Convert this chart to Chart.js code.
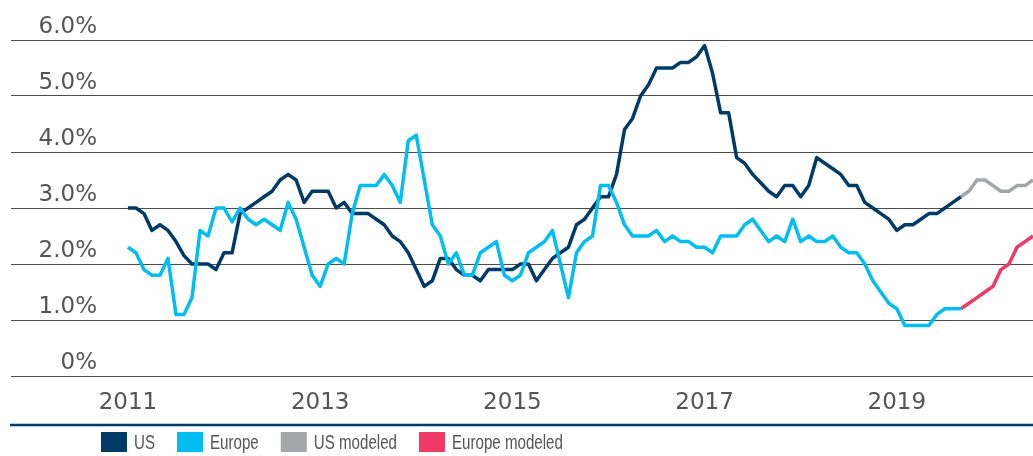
<!DOCTYPE html>
<html><head><meta charset="utf-8">
<script src="https://cdn.jsdelivr.net/npm/chart.js@4/dist/chart.umd.min.js"></script>
<style>html,body{margin:0;padding:0;background:#fff;} #wrap{width:1033px;height:456px;position:relative;}</style>
</head><body><div id="wrap"><canvas id="c"></canvas></div>
<script>
// Tick labels
const yearLabels = ['2011', '2013', '2015', '2017', '2019'];
const yearTickMonths = [0, 24, 48, 72, 96];          // month index (0 = Jan 2011)
const yTickValues = [0, 1, 2, 3, 4, 5, 6];
const yTickLabels = ['0%', '1.0%', '2.0%', '3.0%', '4.0%', '5.0%', '6.0%'];
const seriesNames = ['US', 'Europe', 'US modeled', 'Europe modeled'];

// Monthly values (%), Jan 2011 onward
const usValues = [
  3.0, 3.0, 2.9, 2.6, 2.7, 2.6, 2.4, 2.15, 2.0, 2.0,
  2.0, 1.9, 2.2, 2.2, 2.9, 3.0, 3.1, 3.2, 3.3, 3.5,
  3.6, 3.5, 3.1, 3.3, 3.3, 3.3, 3.0, 3.1, 2.9, 2.9,
  2.9, 2.8, 2.7, 2.5, 2.4, 2.2, 1.9, 1.6, 1.7, 2.1,
  2.1, 1.9, 1.8, 1.8, 1.7, 1.9, 1.9, 1.9, 1.9, 2.0,
  2.0, 1.7, 1.9, 2.1, 2.2, 2.3, 2.7, 2.8, 3.0, 3.2,
  3.2, 3.6, 4.4, 4.6, 5.0, 5.2, 5.5, 5.5, 5.5, 5.6,
  5.6, 5.7, 5.9, 5.4, 4.7, 4.7, 3.9, 3.8, 3.6, 3.45,
  3.3, 3.2, 3.4, 3.4, 3.2, 3.4, 3.9, 3.8, 3.7, 3.6,
  3.4, 3.4, 3.1, 3.0, 2.9, 2.8, 2.6, 2.7, 2.7, 2.8,
  2.9, 2.9, 3.0, 3.1, 3.2
];
const europeValues = [
  2.3, 2.2, 1.9, 1.8, 1.8, 2.1, 1.1, 1.1, 1.4, 2.6,
  2.5, 3.0, 3.0, 2.75, 3.0, 2.8, 2.7, 2.8, 2.7, 2.6,
  3.1, 2.8, 2.3, 1.8, 1.6, 2.0, 2.1, 2.0, 2.9, 3.4,
  3.4, 3.4, 3.6, 3.4, 3.1, 4.2, 4.3, 3.5, 2.7, 2.5,
  2.0, 2.2, 1.8, 1.8, 2.2, 2.3, 2.4, 1.8, 1.7, 1.8,
  2.2, 2.3, 2.4, 2.6, 2.0, 1.4, 2.2, 2.4, 2.5, 3.4,
  3.4, 3.1, 2.7, 2.5, 2.5, 2.5, 2.6, 2.4, 2.5, 2.4,
  2.4, 2.3, 2.3, 2.2, 2.5, 2.5, 2.5, 2.7, 2.8, 2.6,
  2.4, 2.5, 2.4, 2.8, 2.4, 2.5, 2.4, 2.4, 2.5, 2.3,
  2.2, 2.2, 2.0, 1.7, 1.5, 1.3, 1.2, 0.9, 0.9, 0.9,
  0.9, 1.1, 1.2, 1.2, 1.2
];
// Modeled values start at the last actual month
const usModeled = [3.2, 3.3, 3.5, 3.5, 3.4, 3.3, 3.3, 3.4, 3.4, 3.5];
const europeModeled = [1.2, 1.3, 1.4, 1.5, 1.6, 1.9, 2.0, 2.3, 2.4, 2.5];

const modeledStart = usValues.length - 1;
const toPoints = (arr, start) => arr.map((v, i) => ({ x: start + i, y: v }));

const colors = ['#003B68', '#00BDF2', '#A5A6A9', '#EE3A64'];
const axisFont = { family: '"DejaVu Sans", sans-serif', size: 23 };

const decorPlugin = {
  id: 'decor',
  afterDraw(chart) {
    const ctx = chart.ctx, y = chart.scales.y;
    ctx.save();
    // y tick labels, sitting above their grid lines
    ctx.font = '23px "DejaVu Sans", sans-serif';
    ctx.fillStyle = '#555555';
    ctx.textAlign = 'right';
    ctx.textBaseline = 'alphabetic';
    yTickValues.forEach((v, i) => {
      ctx.fillText(yTickLabels[i], 97, y.getPixelForValue(v) - 7);
    });
    // bottom rule
    const ruleY = chart.scales.x.bottom + 9;
    ctx.strokeStyle = '#003B68';
    ctx.lineWidth = 2.5;
    ctx.beginPath();
    ctx.moveTo(10, ruleY);
    ctx.lineTo(1033, ruleY);
    ctx.stroke();
    // legend (condensed text)
    const scaleX = 0.72;
    ctx.font = '21px "Liberation Sans", Arial, sans-serif';
    ctx.textAlign = 'left';
    let x = 101;
    const boxTop = ruleY + 7;
    chart.data.datasets.forEach(ds => {
      ctx.fillStyle = ds.borderColor;
      ctx.fillRect(x, boxTop, 26, 20);
      const tx = x + 33;
      ctx.fillStyle = '#555555';
      ctx.save();
      ctx.translate(tx, boxTop + 17);
      ctx.scale(scaleX, 1);
      ctx.fillText(ds.label, 0, 0);
      ctx.restore();
      x = tx + ctx.measureText(ds.label).width * scaleX + 22;
    });
    ctx.restore();
  }
};

new Chart(document.getElementById('c'), {
  type: 'line',
  data: {
    datasets: [
      { label: seriesNames[0], data: toPoints(usValues, 0), borderColor: colors[0], backgroundColor: colors[0], order: 2 },
      { label: seriesNames[1], data: toPoints(europeValues, 0), borderColor: colors[1], backgroundColor: colors[1], order: 1 },
      { label: seriesNames[2], data: toPoints(usModeled, modeledStart), borderColor: colors[2], backgroundColor: colors[2], order: 3 },
      { label: seriesNames[3], data: toPoints(europeModeled, modeledStart), borderColor: colors[3], backgroundColor: colors[3], order: 4 }
    ].sort((a, b) => 0)
  },
  options: {
    responsive: true,
    maintainAspectRatio: false,
    animation: false,
    devicePixelRatio: 1,
    layout: { padding: { left: 11, right: 0, top: 40, bottom: 40 } },
    elements: {
      line: { borderWidth: 3.5, tension: 0, borderCapStyle: 'butt', borderJoinStyle: 'round' },
      point: { radius: 0, hoverRadius: 0 }
    },
    scales: {
      x: {
        type: 'linear',
        min: -14.6,
        max: 113,
        afterBuildTicks: s => { s.ticks = yearTickMonths.map(v => ({ value: v })); },
        afterFit: s => { s.height = 40; },
        ticks: {
          font: axisFont, color: '#555555', padding: 13, maxRotation: 0, autoSkip: false,
          callback: v => { const i = yearTickMonths.indexOf(v); return i >= 0 ? yearLabels[i] : ''; }
        },
        grid: { display: false, drawTicks: false },
        border: { display: false }
      },
      y: {
        min: 0, max: 6,
        afterBuildTicks: s => { s.ticks = yTickValues.map(v => ({ value: v })); },
        afterFit: s => { s.width = 0; },
        ticks: { display: false },
        grid: { color: '#4d4d4d', lineWidth: 1, drawTicks: false },
        border: { display: false }
      }
    },
    plugins: {
      tooltip: { enabled: false },
      legend: { display: false }
    }
  },
  plugins: [decorPlugin]
});
</script>
</body></html>
